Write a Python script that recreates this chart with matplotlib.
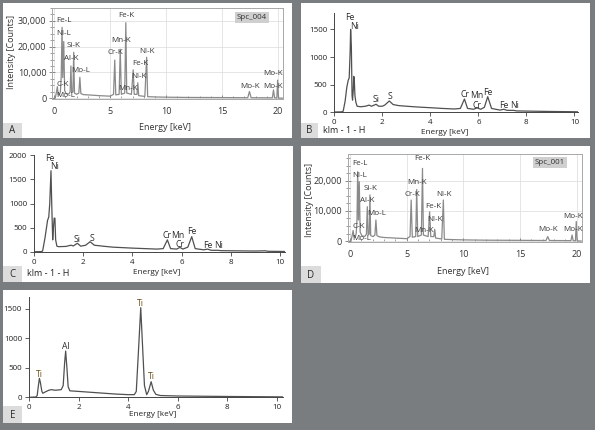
import matplotlib
matplotlib.use('Agg')
import matplotlib.pyplot as plt
from matplotlib.patches import Rectangle
from matplotlib.ticker import MultipleLocator, FuncFormatter

plt.rcParams['font.family'] = ['Open Sans', 'DejaVu Sans']

W, H = 595, 430

# ---- spectrum data (energy keV, counts) ----
a_e = [0.0, 0.1, 0.2, 0.28, 0.35, 0.45, 0.55, 0.62, 0.70, 0.76, 0.85, 0.93, 1.05, 1.3, 1.42, 1.49, 1.56,
       1.67, 1.74, 1.81, 2.0, 2.2, 2.29, 2.38, 2.6, 3.0, 4.0, 5.0, 5.3, 5.41, 5.5, 5.8, 5.9, 6.0, 6.3,
       6.40, 6.48, 6.9, 7.06, 7.15, 7.4, 7.47, 7.55, 8.1, 8.26, 8.35, 9.0, 10, 12, 15, 17.3, 17.45,
       17.6, 19.5, 19.6, 19.7, 19.9, 19.97, 20.05, 20.4]
a_c = [0, 200, 2500, 4500, 1500, 1200, 2500, 8000, 27500, 8000, 22000, 3000, 1800, 1600, 2500, 12500, 2200,
       2500, 17800, 2000, 1500, 2000, 8100, 1800, 1400, 1300, 1000, 800, 1500, 14800, 1300, 1500, 19000, 1500, 2000,
       29300, 2000, 1500, 11000, 1500, 1500, 6000, 1000, 700, 15900, 600, 500, 400, 300, 250, 200, 2600,
       200, 150, 3200, 150, 100, 7000, 50, 30]

d_e = [0.0, 0.1, 0.2, 0.28, 0.35, 0.45, 0.55, 0.62, 0.68, 0.75, 0.82, 0.9, 1.05, 1.3, 1.45, 1.53, 1.6,
       1.7, 1.76, 1.83, 2.05, 2.2, 2.29, 2.38, 2.6, 3.0, 4.0, 5.0, 5.3, 5.40, 5.5, 5.8, 5.89, 5.98, 6.3,
       6.40, 6.48, 6.9, 7.03, 7.13, 7.4, 7.48, 7.56, 8.1, 8.24, 8.33, 9.0, 10, 12, 15, 17.3, 17.45,
       17.6, 19.5, 19.6, 19.7, 19.9, 19.97, 20.05, 20.4]
d_c = [0, 200, 2000, 3500, 1500, 1200, 2500, 7000, 23000, 7000, 19700, 3000, 1800, 1500, 2300, 11400, 2000,
       2300, 15300, 1800, 1500, 2000, 7000, 1800, 1400, 1200, 1000, 800, 1500, 13600, 1300, 1500, 17100, 1500, 2000,
       24100, 2000, 1500, 9700, 1500, 1500, 3900, 1000, 700, 13600, 600, 500, 400, 300, 250, 200, 1500,
       200, 150, 2000, 150, 100, 6500, 50, 30]

b_e = [0, 0.3, 0.37, 0.45, 0.52, 0.58, 0.62, 0.66, 0.68, 0.71, 0.74, 0.76, 0.79, 0.81, 0.83, 0.86, 0.9,
       0.95, 1.1, 1.3, 1.45, 1.55, 1.74, 1.85, 2.0, 2.1, 2.29, 2.45, 2.7, 3.0, 3.5, 4.0, 4.5, 5.0, 5.25,
       5.42, 5.55, 5.8, 5.95, 6.1, 6.25, 6.39, 6.55, 6.9, 7.06, 7.2, 7.47, 7.6, 8, 9, 10, 10.15]
b_c = [5, 8, 20, 200, 450, 580, 620, 1100, 1500, 1200, 300, 220, 400, 650, 615, 300, 180,
       110, 100, 110, 130, 110, 145, 110, 110, 130, 205, 140, 120, 110, 95, 83, 70, 60, 70,
       240, 70, 55, 80, 55, 90, 282, 70, 40, 55, 35, 35, 25, 22, 15, 10, 8]

c_e = [0, 0.3, 0.35, 0.45, 0.55, 0.6, 0.64, 0.69, 0.72, 0.76, 0.79, 0.82, 0.85, 0.88, 0.93, 1.0, 1.3,
       1.5, 1.6, 1.76, 1.9, 2.1, 2.28, 2.45, 2.8, 3.2, 3.6, 4.0, 4.5, 5.0, 5.25, 5.42, 5.55, 5.8, 5.93,
       6.05, 6.25, 6.41, 6.55, 6.9, 7.05, 7.2, 7.47, 7.6, 8, 9, 9.4, 9.5, 10, 10.2]
c_c = [5, 8, 20, 300, 650, 720, 1000, 1675, 1000, 250, 500, 700, 695, 250, 120, 110, 115,
       140, 125, 180, 120, 140, 212, 140, 120, 100, 90, 80, 70, 60, 70, 250, 70, 60, 95,
       60, 100, 316, 70, 45, 60, 35, 35, 28, 25, 20, 25, 15, 12, 10]

e_e = [0, 0.28, 0.33, 0.38, 0.42, 0.46, 0.52, 0.56, 0.65, 0.8, 0.9, 1.05, 1.2, 1.3, 1.38, 1.44, 1.48,
       1.53, 1.58, 1.65, 2.0, 2.5, 3.0, 3.5, 4.0, 4.25, 4.33, 4.42, 4.51, 4.58, 4.66, 4.75, 4.82, 4.93,
       5.02, 5.12, 5.3, 6, 7, 8, 9, 10, 10.24]
e_c = [0, 5, 30, 200, 322, 250, 100, 68, 90, 120, 130, 120, 125, 130, 200, 600, 786,
       500, 180, 110, 100, 85, 70, 55, 45, 45, 100, 800, 1521, 900, 200, 45, 100, 265,
       120, 50, 30, 22, 18, 14, 11, 8, 7]

# peak labels (text, energy, counts)
a_lbl = [('Fe-L', 0.15, 30000), ('Ni-L', 0.2, 25200), ('Si-K', 1.13, 20400), ('Al-K', 0.9, 15500),
         ('Mo-L', 1.5, 10600), ('C-K', 0.2, 5500), ('Mo-L', 0.2, 900), ('Mn-K', 5.09, 22300),
         ('Cr-K', 4.76, 17700), ('Ni-K', 7.62, 18000), ('Fe-K', 6.94, 13300), ('Ni-K', 6.85, 8600),
         ('Mn-K', 5.74, 3600), ('Mo-K', 16.6, 4500), ('Mo-K', 18.7, 4500), ('Mo-K', 18.7, 9400)]
a_top = ('Fe-K', 6.4, 32000)
d_lbl = [('Fe-L', 0.2, 25800), ('Ni-L', 0.2, 21900), ('Si-K', 1.18, 17500), ('Al-K', 0.88, 13300),
         ('Mo-L', 1.56, 9200), ('C-K', 0.2, 5000), ('Mo-L', 0.2, 900), ('Mn-K', 5.09, 19500),
         ('Cr-K', 4.79, 15600), ('Ni-K', 7.65, 15600), ('Fe-K', 6.62, 11600), ('Ni-K', 6.85, 7300),
         ('Mn-K', 5.68, 3400), ('Mo-K', 16.6, 3900), ('Mo-K', 18.8, 3900), ('Mo-K', 18.8, 8100)]
d_top = ('Fe-K', 6.41, 27400)
b_lbl = [('Fe', 0.65, 1717), ('Ni', 0.83, 1548), ('Si', 1.74, 240), ('S', 2.32, 282), ('Cr', 5.45, 325),
         ('Cr', 5.93, 130), ('Mn', 5.93, 300), ('Fe', 6.38, 361), ('Fe', 7.07, 132), ('Ni', 7.49, 114)]
c_lbl = [('Fe', 0.65, 1930), ('Ni', 0.85, 1773), ('Si', 1.76, 268), ('S', 2.35, 282), ('Cr', 5.42, 330),
         ('Mn', 5.83, 336), ('Cr', 5.93, 150), ('Fe', 6.41, 419), ('Fe', 7.05, 144), ('Ni', 7.49, 124)]
e_lbl = [('Ti', 0.44, 390), ('Al', 1.49, 860), ('Ti', 4.51, 1596), ('Ti', 4.95, 350)]


def fbox(x0, y0, x1, y1):
    return [x0 / W, 1 - y1 / H, (x1 - x0) / W, (y1 - y0) / H]


def fpt(x, y):
    return x / W, 1 - y / H


fig = plt.figure(figsize=(W / 100, H / 100), dpi=100, facecolor='#7a7d80')

# white panels
panels = {'A': (3, 3, 292, 138), 'B': (301, 3, 590, 138), 'C': (3, 146, 293, 282),
          'D': (301, 146, 590, 283), 'E': (3, 290, 292, 423)}
for k, (x0, y0, x1, y1) in panels.items():
    b = fbox(x0, y0, x1, y1)
    fig.add_artist(Rectangle((b[0], b[1]), b[2], b[3], transform=fig.transFigure,
                             facecolor='white', edgecolor='none', zorder=0))

# letter boxes
letters = {'A': (3, 123, 22, 138), 'B': (301, 123, 318, 138), 'C': (3, 266, 22, 282),
           'D': (301, 266, 321, 283), 'E': (3, 406, 22, 423)}
for k, (x0, y0, x1, y1) in letters.items():
    b = fbox(x0, y0, x1, y1)
    fig.add_artist(Rectangle((b[0], b[1]), b[2], b[3], transform=fig.transFigure,
                             facecolor='#dcdcdc', edgecolor='none', zorder=1))
    fig.text(*fpt((x0 + x1) / 2, (y0 + y1) / 2 + 0.5), k, ha='center', va='center',
             fontsize=7, color='#2a2a2a', zorder=2)
fig.text(*fpt(323, 131), 'klm - 1 - H', ha='left', va='center', fontsize=6.5, color='#222')
fig.text(*fpt(27, 274), 'klm - 1 - H', ha='left', va='center', fontsize=6.5, color='#222')


def eds_wide(box, ytop, e, c, lbls, top, spc, ylab_x, ylab_y, xlab):
    ax = fig.add_axes(fbox(*box))
    ax.set_facecolor('none')
    ax.plot(e, c, color='#8a8a8a', lw=0.9)
    ax.set_xlim(-0.2, 20.45)
    ax.set_ylim(-300, ytop)
    ax.set_xticks([0, 5, 10, 15, 20])
    ax.xaxis.set_minor_locator(MultipleLocator(1))
    ax.set_yticks([0, 10000, 20000, 30000] if ytop > 30000 else [0, 10000, 20000])
    ax.yaxis.set_minor_locator(MultipleLocator(2500))
    ax.yaxis.set_major_formatter(FuncFormatter(lambda v, p: f'{int(v):,}'))
    ax.grid(True, which='major', color='#e0e0e0', lw=0.6)
    ax.set_axisbelow(True)
    for s in ax.spines.values():
        s.set_color('#a8a8a8')
        s.set_linewidth(0.7)
    ax.tick_params(axis='x', which='both', direction='in', colors='#777', labelcolor='#333',
                   labelsize=6.5, pad=6)
    ax.tick_params(axis='x', which='major', length=3, width=0.6)
    ax.tick_params(axis='x', which='minor', length=2, width=0.5)
    ax.tick_params(axis='y', which='both', direction='inout', colors='#777', labelcolor='#333',
                   labelsize=6.5, pad=2)
    ax.tick_params(axis='y', which='major', length=4, width=0.6)
    ax.tick_params(axis='y', which='minor', length=2.5, width=0.5)
    for t, x, y in lbls:
        ax.text(x, y, t, fontsize=5.8, color='#383838', ha='left', va='center')
    ax.text(top[1], top[2], top[0], fontsize=5.8, color='#383838', ha='center', va='center')
    ax.text(0.93, 0.9, spc, transform=ax.transAxes, fontsize=5.8, color='#333', ha='right',
            va='center', bbox=dict(boxstyle='square,pad=0.25', facecolor='#cfcfcf', edgecolor='none'))
    fig.text(*fpt(ylab_x, ylab_y), 'Intensity [Counts]', rotation=90, ha='center', va='center',
             fontsize=6.5, color='#333')
    fig.text(*fpt(*xlab), 'Energy [keV]', ha='center', va='center', fontsize=6.5, color='#333')
    return ax


def eds_narrow(box, xr, yr, yticks, e, c, lbls, xlab):
    ax = fig.add_axes(fbox(*box))
    ax.set_facecolor('none')
    ax.plot(e, c, color='#505050', lw=0.9)
    ax.set_xlim(0, xr)
    ax.set_ylim(0, yr)
    ax.set_xticks([0, 2, 4, 6, 8, 10])
    ax.set_yticks(yticks)
    for s in ['top', 'right']:
        ax.spines[s].set_visible(False)
    for s in ['left', 'bottom']:
        ax.spines[s].set_color('#444')
        ax.spines[s].set_linewidth(0.7)
    ax.tick_params(direction='out', length=3, width=0.6, colors='#444', labelcolor='#222',
                   labelsize=5.8, pad=2)
    for t, x, y in lbls:
        col = '#6b4b12' if t == 'Ti' else '#2a2a2a'
        ax.text(x, y, t, fontsize=6.2, color=col, ha='center', va='center')
    fig.text(*fpt(*xlab), 'Energy [keV]', ha='center', va='center', fontsize=5.9, color='#222')
    return ax


eds_wide((52, 8, 283, 99), 35000, a_e, a_c, a_lbl, a_top, 'Spc_004', 12, 52, (165, 127))
eds_wide((347.7, 153.6, 581.7, 242), 29000, d_e, d_c, d_lbl, d_top, 'Spc_001', 309, 200, (463, 272))
eds_narrow((334.3, 12.8, 578, 112.3), 10.15, 1800, [0, 500, 1000, 1500], b_e, b_c, b_lbl, (445, 132))
eds_narrow((34, 155, 285, 252), 10.2, 2000, [0, 500, 1000, 1500, 2000], c_e, c_c, c_lbl, (157, 272))
eds_narrow((29, 297.2, 282.7, 397.3), 10.24, 1700, [0, 500, 1000, 1500], e_e, e_c, e_lbl, (153, 415))

fig.savefig('out.png', dpi=100, facecolor=fig.get_facecolor())
